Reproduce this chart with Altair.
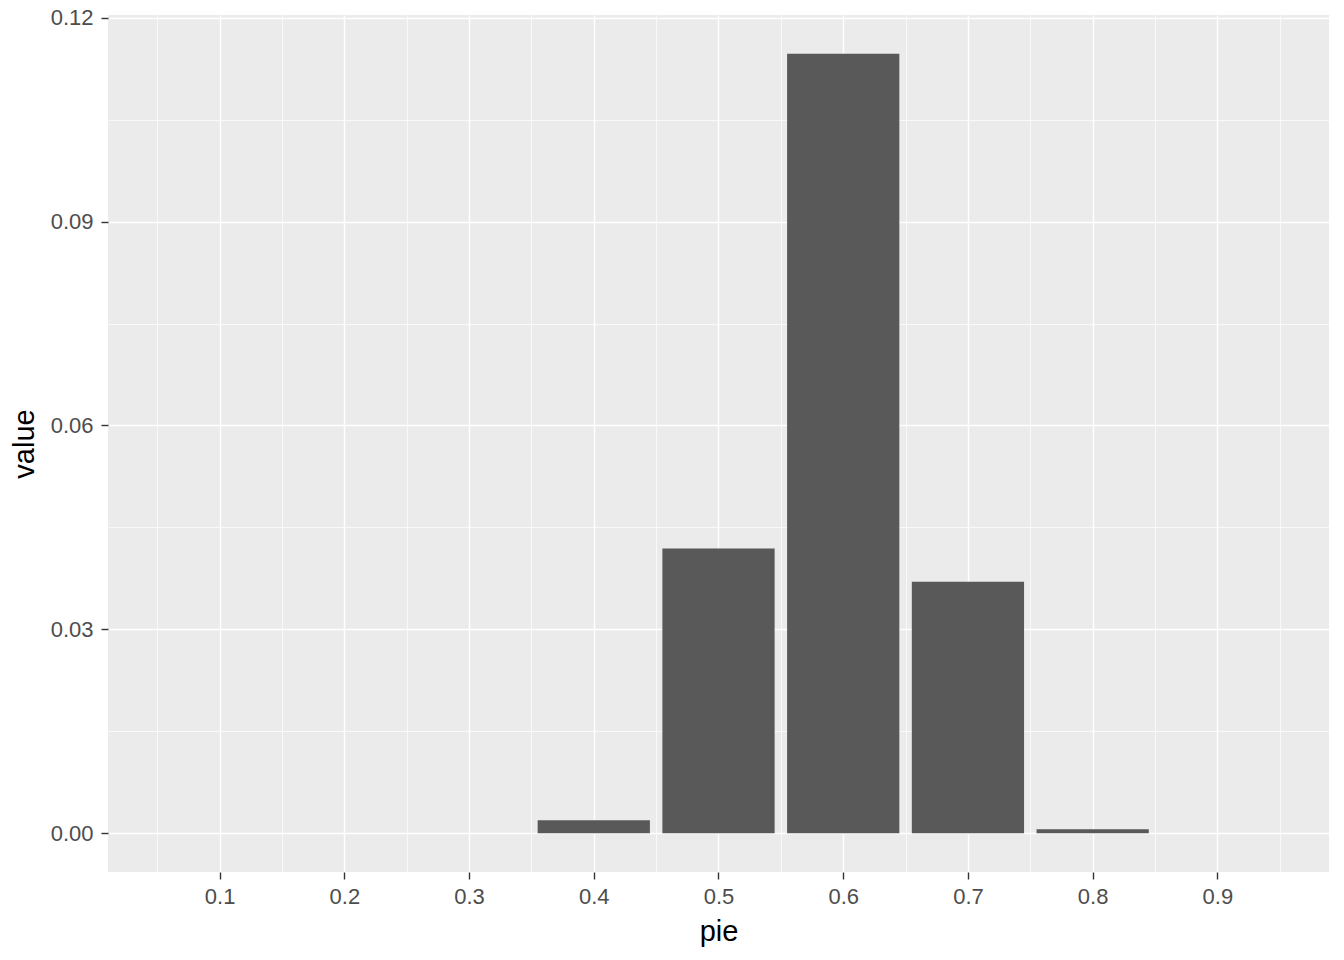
import altair as alt
import pandas as pd

pie = [0.1, 0.2, 0.3, 0.4, 0.5, 0.6, 0.7, 0.8, 0.9]
value = [0.0, 0.0, 0.0, 0.0019, 0.0419, 0.1147, 0.0370, 0.0006, 0.0]
x_minor = [0.05, 0.15, 0.25, 0.35, 0.45, 0.55, 0.65, 0.75, 0.85, 0.95]
y_minor = [0.015, 0.045, 0.075, 0.105]
x_ticks = [0.1, 0.2, 0.3, 0.4, 0.5, 0.6, 0.7, 0.8, 0.9]
y_ticks = [0.0, 0.03, 0.06, 0.09, 0.12]

df = pd.DataFrame({"pie": pie, "value": value})
xs = alt.Scale(domain=[0.0105, 0.9895], nice=False, zero=False)
ys = alt.Scale(domain=[-0.0057, 0.1204], nice=False, zero=False)

font = "Liberation Sans"

base = alt.Chart(df).transform_calculate(
    x0="datum.pie - 0.045", x1="datum.pie + 0.045"
)

minor_axis = dict(grid=True, gridColor="white", gridWidth=0.7, domain=False, ticks=False,
                  labels=False, title=None)

minor = base.mark_bar(opacity=0).encode(
    x=alt.X("x0:Q", scale=xs, axis=alt.Axis(values=x_minor, orient="top", **minor_axis)),
    x2="x1:Q",
    y=alt.Y("value:Q", scale=ys, axis=alt.Axis(values=y_minor, orient="right", **minor_axis)),
    y2=alt.datum(0),
)

major_axis = dict(grid=True, gridColor="white", gridWidth=1.4, domain=False,
                  tickColor="#333333", tickSize=7, tickWidth=1.4,
                  labelColor="#4D4D4D", labelFontSize=22, labelFont=font,
                  titleFont=font, titleFontSize=29, titleColor="black", titleFontWeight="normal")

bars = base.mark_bar(color="#595959").encode(
    x=alt.X("x0:Q", scale=xs, title="pie",
            axis=alt.Axis(values=x_ticks, format=".1f", labelPadding=7, titlePadding=10, **major_axis)),
    x2="x1:Q",
    y=alt.Y("value:Q", scale=ys, title="value",
            axis=alt.Axis(values=y_ticks, format=".2f", labelPadding=8, titlePadding=11, **major_axis)),
    y2=alt.datum(0),
)

chart = alt.layer(minor, bars).resolve_axis(x="independent", y="independent").properties(
    width=1221, height=857,
    autosize=alt.AutoSizeParams(type="none"),
    padding={"left": 100, "top": 7, "right": 7, "bottom": 80},
).configure(background="white").configure_view(fill="#EBEBEB", stroke=None)

chart.save("out.html", embed_options={"renderer": "svg", "actions": False})
